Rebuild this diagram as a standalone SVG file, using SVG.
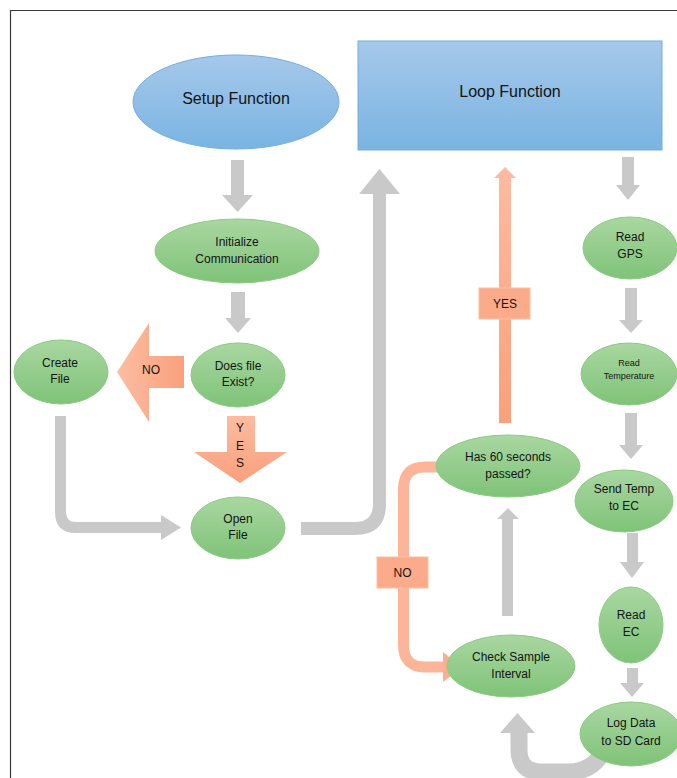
<svg xmlns="http://www.w3.org/2000/svg" width="677" height="778" viewBox="0 0 677 778">
<defs>
<linearGradient id="gGreen" x1="0" y1="0" x2="0" y2="1"><stop offset="0" stop-color="#a9d7a1"/><stop offset="1" stop-color="#7fc378"/></linearGradient>
<linearGradient id="gBlue" x1="0" y1="0" x2="0" y2="1"><stop offset="0" stop-color="#a6c8ea"/><stop offset="1" stop-color="#79b4e2"/></linearGradient>
<linearGradient id="gOrange" x1="0" y1="0" x2="1" y2="0"><stop offset="0" stop-color="#fdbda2"/><stop offset="1" stop-color="#f9a07c"/></linearGradient>
<linearGradient id="gOrangeV" x1="0" y1="0" x2="0" y2="1"><stop offset="0" stop-color="#fdbba0"/><stop offset="1" stop-color="#f9a07c"/></linearGradient>
</defs>
<style>
.g{fill:url(#gGreen);stroke:#8ccb84;stroke-width:1}
.b{fill:url(#gBlue);stroke:#72aedc;stroke-width:1}
.ga{fill:#c9c9c9}
.oa{fill:url(#gOrange)}
.ob{fill:#fbab8a;stroke:#fcc0a6;stroke-width:1}
text{font-family:"Liberation Sans",Arial,sans-serif;fill:#141414;text-anchor:middle}
.t12{font-size:12px}
.t9{font-size:9px}
.t16{font-size:16px}
</style>
<rect width="677" height="778" fill="#ffffff"/>
<path d="M10.5,778 V10.5 H677" fill="none" stroke="#3a3a3a" stroke-width="1.2"/>

<g id="connectors">
  <polygon class="ga" points="231,160 244,160 244,195 253,195 237.5,212 222,195 231,195"/>
  <polygon class="ga" points="231,292 245,292 245,318 251,318 238,333 225,318 231,318"/>
  <polygon class="ga" points="622,157 634,157 634,185 640,185 628,200 616,185 622,185"/>
  <polygon class="ga" points="625,288 637,288 637,320 643,320 631,333 619,320 625,320"/>
  <polygon class="ga" points="625,413 637,413 637,445 643,445 631,459 619,445 625,445"/>
  <polygon class="ga" points="627,533 638,533 638,562 644,562 632,578 620,562 627,562"/>
  <polygon class="ga" points="627,668 638,668 638,683 644,683 632,697 620,683 627,683"/>
  <path class="ga" d="M55,416 H66 V512 Q66,522 76,522 H161 V515 L181,527.5 L161,540 V533 H76 Q55,533 55,512 Z"/>
  <path class="ga" d="M301,522 H355 Q373,522 373,504 V194 H359 L379.5,169 L400,194 H386 V504 Q386,535 355,535 H301 Z"/>
  <polygon class="ga" points="502,616 502,519 497,519 508,508 519,519 513,519 513,616"/>
  <path d="M604,750 Q593,772 568,772 H542 Q519,772 519,750 V733" fill="none" stroke="#c9c9c9" stroke-width="17"/>
  <polygon class="ga" points="500,733 535,733 517.5,713"/>

  <path class="oa" d="M184,356 V388 H149 V422 L117,372 L149,323 V356 Z"/>
  <text class="t12" x="151" y="374">NO</text>
  <path fill="url(#gOrangeV)" d="M227,416 H255 V452 H287 L240,483 L194,452 H227 Z"/>
  <text class="t12" x="240" y="432">Y</text>
  <text class="t12" x="240" y="450">E</text>
  <text class="t12" x="240" y="467">S</text>
  <path fill="url(#gOrangeV)" d="M499,423 V178 H494 L505,167 L516,178 H511 V423 Z"/>
  <rect class="ob" x="479" y="288" width="51" height="31"/>
  <text class="t12" x="505" y="308">YES</text>
  <path d="M437,467 H425 Q403.5,467 403.5,489 V645 Q403.5,667 425,667 H445" fill="none" stroke="#fdb59a" stroke-width="11"/>
  <polygon fill="#fcae90" points="443,652 462,667 443,682"/>
  <rect class="ob" x="377" y="557" width="51" height="31"/>
  <text class="t12" x="402.5" y="577">NO</text>
</g>

<g id="setup"><ellipse class="b" cx="236" cy="102" rx="103" ry="47"/><text class="t16" x="236" y="104">Setup Function</text></g>
<g id="loop"><rect class="b" x="358" y="41" width="304" height="109"/><text class="t16" x="510" y="97">Loop Function</text></g>
<g id="init"><ellipse class="g" cx="237" cy="251" rx="82" ry="32"/><text class="t12" x="237" y="246">Initialize</text><text class="t12" x="237" y="263">Communication</text></g>
<g id="exist"><ellipse class="g" cx="238" cy="375" rx="47" ry="32"/><text class="t12" x="238" y="370">Does file</text><text class="t12" x="238" y="386">Exist?</text></g>
<g id="create"><ellipse class="g" cx="61" cy="372" rx="47" ry="32"/><text class="t12" x="60" y="367">Create</text><text class="t12" x="60" y="383">File</text></g>
<g id="open"><ellipse class="g" cx="238" cy="528" rx="47" ry="31"/><text class="t12" x="238" y="523">Open</text><text class="t12" x="238" y="539">File</text></g>
<g id="gps"><ellipse class="g" cx="630" cy="248" rx="47" ry="31"/><text class="t12" x="630" y="241">Read</text><text class="t12" x="630" y="258">GPS</text></g>
<g id="temp"><ellipse class="g" cx="629" cy="374" rx="48" ry="31"/><text class="t9" x="629" y="366">Read</text><text class="t9" x="629" y="379">Temperature</text></g>
<g id="send"><ellipse class="g" cx="624" cy="501" rx="49" ry="31"/><text class="t12" x="624" y="493">Send Temp</text><text class="t12" x="624" y="510">to EC</text></g>
<g id="ec"><ellipse class="g" cx="631" cy="625" rx="32" ry="38"/><text class="t12" x="631" y="619">Read</text><text class="t12" x="631" y="636">EC</text></g>
<g id="log"><ellipse class="g" cx="631" cy="734" rx="51" ry="32"/><text class="t12" x="631" y="727">Log Data</text><text class="t12" x="631" y="745">to SD Card</text></g>
<g id="check"><ellipse class="g" cx="511" cy="666" rx="64" ry="31"/><text class="t12" x="511" y="661">Check Sample</text><text class="t12" x="511" y="678">Interval</text></g>
<g id="has60"><ellipse class="g" cx="508" cy="466" rx="72" ry="31"/><text class="t12" x="508" y="461">Has 60 seconds</text><text class="t12" x="508" y="478">passed?</text></g>
</svg>
